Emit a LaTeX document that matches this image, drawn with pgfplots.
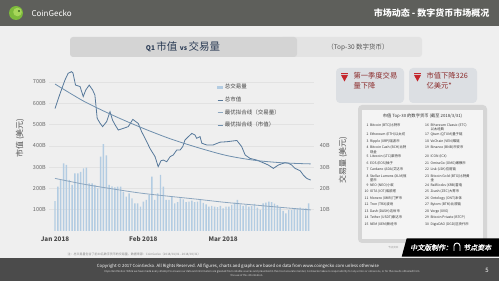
\documentclass[border=0pt]{standalone}
\usepackage{pgfplots}
\pgfplotsset{compat=1.18}
\usepackage{fontspec}
\setmainfont{Noto Sans CJK SC}
\newfontfamily\bannerfont[FakeSlant=0.2,FakeBold=1.2]{Noto Sans CJK SC}
\definecolor{bg}{HTML}{EFEFEF}
\definecolor{hdr}{HTML}{5E5F5B}
\definecolor{ftr}{HTML}{4B4B4B}
\definecolor{barcol}{HTML}{B3CCE2}
\definecolor{mcapcol}{HTML}{56789A}
\definecolor{mtrend}{HTML}{6F8FAD}
\definecolor{vtrend}{HTML}{8CA6BF}
\definecolor{tickgray}{HTML}{666666}
\definecolor{titlecol}{HTML}{2A3B55}
\definecolor{callred}{HTML}{C4262C}
\definecolor{calltext}{HTML}{8B2B2B}
\definecolor{logoA}{HTML}{7DBA3C}
\definecolor{logoB}{HTML}{A6D65A}
\definecolor{logoC}{HTML}{3F6E1E}
\definecolor{boxA}{HTML}{D4D4D4}
\definecolor{boxB}{HTML}{E3E3E3}
\definecolor{callbox}{HTML}{DCDFE3}
\definecolor{tabout}{HTML}{D6D6D6}
\definecolor{tabin}{HTML}{F4F4F4}
\definecolor{gridc}{HTML}{E2E2E2}
\definecolor{g33}{HTML}{333333}
\definecolor{g44}{HTML}{444444}
\definecolor{g4a}{HTML}{4A4A4A}
\definecolor{g55}{HTML}{555555}
\definecolor{g88}{HTML}{888888}
\definecolor{g99}{HTML}{999999}
\definecolor{gdd}{HTML}{DDDDDD}
\newcommand\R[2]{\makebox[5pt][r]{#1}\hspace{1.5pt}\parbox[t]{51pt}{\raggedright #2}}
\begin{document}
\begin{tikzpicture}[x=1pt,y=1pt]
\useasboundingbox (0,0) rectangle (499,281);
\fill[bg] (0,0) rectangle (499,281);
% header
\fill[hdr] (0,255) rectangle (499,281);
\fill[logoA] (16,268) circle (7);
\fill[logoB] (17.5,269) circle (4.3);
\fill[logoC] (19,270) circle (1.2);
\node[anchor=west,text=white,font=\fontsize{8}{9}\selectfont] at (28,268) {CoinGecko};
\node[anchor=east,text=white,font=\fontsize{9}{10}\selectfont\bfseries] at (493,268) {市场动态 - 数字货币市场概况};
% title boxes
\fill[boxB,rounded corners=3pt] (280,224) rectangle (422,244);
\fill[boxA,rounded corners=3pt] (70,224) rectangle (297,244);
\node[text=titlecol] at (183,234) {\fontsize{6.5}{7}\selectfont\bfseries Q1 \fontsize{10.5}{12}\selectfont\mdseries 市值 \fontsize{6.5}{7}\selectfont\bfseries vs \fontsize{10.5}{12}\selectfont\mdseries 交易量};
\node[text=g55,font=\fontsize{6.5}{7}\selectfont] at (358,234) {（Top-30 数字货币）};
% callouts
\fill[callbox,rounded corners=4pt] (336,178) rectangle (404,213);
\fill[callbox,rounded corners=4pt] (409,178) rectangle (477,213);
\fill[callred] (341,207) rectangle (348,208.4);
\fill[callred] (341,206) -- (348,206) -- (344.5,199.5) -- cycle;
\fill[callred] (414,207) rectangle (421,208.4);
\fill[callred] (414,206) -- (421,206) -- (417.5,199.5) -- cycle;
\node[anchor=west,text=calltext,font=\fontsize{7.3}{8}\selectfont] at (350,205) {第一季度交易};
\node[anchor=west,text=calltext,font=\fontsize{7.3}{8}\selectfont] at (350,195) {量下降};
\node[anchor=west,text=calltext,font=\fontsize{7.3}{8}\selectfont] at (423,205) {市值下降326};
\node[anchor=west,text=calltext,font=\fontsize{7.3}{8}\selectfont] at (423,195) {亿美元*};
% table
\fill[tabout,rounded corners=4pt] (358,38) rectangle (487,176);
\fill[tabin] (362,42) rectangle (483,171);
\node[text=g33,font=\fontsize{4.3}{5}\selectfont] at (422.5,164.5) {市值 Top-30 的数字货币 (截至 2018/3/31)};
\node[anchor=north,inner sep=0pt,text=g33,font=\fontsize{3.4}{4.2}\selectfont] at (422.5,159) {%
\renewcommand{\arraystretch}{1.55}%
\begin{tabular}{@{}l@{\hspace{3pt}}l@{}}
\R{1}{Bitcoin (BTC)比特币} & \R{16}{Ethereum Classic (ETC)\\以太经典}\\
\R{2}{Ethereum (ETH)以太坊} & \R{17}{Qtum (QTUM)量子链}\\
\R{3}{Ripple (XRP)瑞波币} & \R{18}{VeChain (VEN)唯链}\\
\R{4}{Bitcoin Cash (BCH)比特\\现金} & \R{19}{Binance (BNB)币安币}\\
\R{5}{Litecoin (LTC)莱特币} & \R{20}{ICON (ICX)}\\
\R{6}{EOS (EOS)柚子} & \R{21}{OmiseGo (OMG)嫩模币}\\
\R{7}{Cardano (ADA)艾达币} & \R{22}{Lisk (LSK)应用链}\\
\R{8}{Stellar Lumens (XLM)恒\\星币} & \R{23}{Bitcoin Gold (BTG)比特黄\\金}\\
\R{9}{NEO (NEO)小蚁} & \R{24}{RaiBlocks (XRB)雷电}\\
\R{10}{IOTA (IOT)埃欧塔} & \R{25}{Zcash (ZEC)大零币}\\
\R{11}{Monero (XMR)门罗币} & \R{26}{Ontology (ONT)本体}\\
\R{12}{Tron (TRX)波场} & \R{27}{Bytom (BTM)比原链}\\
\R{13}{Dash (DASH)达世币} & \R{28}{Verge (XVG)}\\
\R{14}{Tether (USDT)泰达币} & \R{29}{Bitcoin Private (BTCP)}\\
\R{15}{NEM (XEM)新经币} & \R{30}{DigixDAO (DGD)区块代币}\\
\end{tabular}};
% volume axis (right)
\begin{axis}[at={(49.3pt,50pt)},anchor=south west,scale only axis,
  width=265.1pt,height=161.9pt,xmin=-2,xmax=91,ymin=0,ymax=76,
  axis x line=none,axis y line*=right,axis line style={draw=none},
  tick style={draw=none},
  ytick={10,20,30,40,50,60,70},yticklabels={10B,20B,30B,40B,{},{},{}},
  yticklabel style={font=\fontsize{5.5}{6}\selectfont,text=tickgray},
  yticklabel shift=2pt,
  ymajorgrids,grid style={gridc,line width=0.4pt},
  clip=false]
\addplot[ybar,bar width=0.5,fill=barcol,draw=none] table[x=d,y=v] {
d v
0 14.0
1 20.8
2 24.0
3 31.8
4 31.0
5 24.0
6 21.6
7 27.0
8 27.0
9 27.8
10 29.4
11 29.7
12 22.4
13 22.4
14 21.6
15 20.0
16 34.9
17 40.8
18 35.5
19 21.6
20 21.0
21 20.5
22 20.8
23 20.8
24 18.4
25 16.1
26 17.7
27 15.3
28 13.0
29 13.0
30 11.4
31 13.8
32 14.6
33 16.9
34 25.5
35 14.6
36 17.7
37 26.3
38 20.8
39 14.6
40 14.6
41 16.1
42 13.0
43 13.5
44 15.3
45 14.9
46 13.5
47 13.8
48 14.2
49 13.5
50 13.8
51 14.6
52 13.2
53 12.5
54 11.4
55 11.8
56 11.4
57 11.2
58 11.8
59 10.6
60 11.4
61 11.4
62 12.3
63 13.3
64 14.6
65 12.5
66 11.8
67 12.2
68 11.4
69 11.8
70 12.7
71 11.0
72 9.9
73 13.0
74 13.3
75 13.8
76 13.5
77 12.8
78 12.2
79 11.0
80 9.5
81 8.3
82 9.9
83 9.9
84 10.6
85 10.6
86 11.0
87 10.6
88 10.6
89 13.0
};
\addplot[vtrend,smooth,line width=0.8pt] coordinates {
(0,24.7) (10,22.0) (20,19.8) (30,17.8) (40,16.3) (50,14.9) (60,13.4) (70,12.2) (80,11.0) (89.7,9.9)};
\end{axis}
% market cap axis (left)
\begin{axis}[at={(49.3pt,50pt)},anchor=south west,scale only axis,
  width=265.1pt,height=161.9pt,xmin=-2,xmax=91,ymin=0,ymax=760,
  axis y line*=left,axis x line*=bottom,axis line style={draw=none},
  tick style={draw=none},
  ytick={100,200,...,700},
  yticklabel={\pgfmathprintnumber{\tick}B},
  /pgf/number format/assume math mode=true,
  yticklabel style={font=\fontsize{5.5}{6}\selectfont,text=tickgray},
  yticklabel shift=0pt,
  xtick={0,31,59},xticklabels={Jan 2018,Feb 2018,Mar 2018},
  xticklabel style={font=\fontsize{6.3}{7}\selectfont\bfseries,text=g4a,yshift=-2pt},
  legend image code/.code={\draw[#1] (0pt,0pt) -- (5pt,0pt);},
  legend style={at={(0.621,0.933)},anchor=north west,draw=none,fill=none,
    font=\fontsize{5.5}{6}\selectfont,text=g44,row sep=2.5pt,
    /tikz/every even column/.append style={column sep=2pt}},
  legend cell align=left,
  clip=false]
\addlegendimage{legend image code/.code={\fill[barcol] (0pt,-1.3pt) rectangle (5pt,1.3pt);}}
\addlegendentry{总交易量}
\addplot[mcapcol,line width=0.8pt] coordinates {
(0,575) (1.8,646) (3.5,709) (4.6,740) (5.8,748) (6.3,742) (7.2,685) (8.8,678) (9.9,631) (10.8,662)
(12.0,685) (13.2,662) (14.0,638) (14.8,529) (15.8,506) (16.7,490) (18.1,513) (19.3,560) (20.2,520) (21.1,498)
(22.2,474) (24.0,482) (25.7,490) (27.3,524) (29.2,505) (30.4,466) (32.2,419) (33.3,388) (35.1,349) (36.2,302)
(37.2,330) (38.0,333) (39.2,325) (40.4,349) (41.5,357) (42.7,380) (43.9,380) (44.8,396) (45.6,427) (46.8,443)
(48.0,458) (49.1,451) (49.7,435) (50.9,443) (51.5,412) (53.2,404) (55.5,404) (57.9,417) (60.2,419) (62.0,422)
(63.8,425) (65.5,396) (66.7,357) (68.4,341) (70.8,333) (73.1,320) (74.8,310) (76.6,294) (78.4,310) (80.7,321)
(81.9,318) (83.0,310) (84.2,294) (86.0,283) (87.1,263) (88.3,247) (89.7,239)};
\addlegendentry{总市值}
\addlegendimage{vtrend,line width=0.8pt}
\addlegendentry{最优拟合线（交易量）}
\addplot[mtrend,smooth,line width=0.8pt] coordinates {
(0,690) (10,610) (20,545) (30,487) (40,435) (50,392) (60,355) (70,332) (80,320) (89.7,315)};
\addlegendentry{最优拟合线（市值）}
\end{axis}
% axis titles
\node[rotate=90,text=g55,font=\fontsize{8}{9}\selectfont] at (20,143) {市值 (美元)};
\node[rotate=90,text=g55,font=\fontsize{8}{9}\selectfont] at (343,121) {交易量 (美元)};
% footnote
\node[anchor=west,text=g88,font=\fontsize{3}{3.5}\selectfont] at (64,27) {注：总交易量包含了前30名数字货币的交易量。数据来源：CoinGecko（2018/01/01 - 2018/03/31）};
% footer
\fill[ftr] (0,0) rectangle (499,23);
\node[text=white,font=\fontsize{4.3}{5}\selectfont] at (238,15) {Copyright © 2017 CoinGecko. All Rights Reserved. All figures, charts and graphs are based on data from www.coingecko.com unless otherwise};
\node[text=gdd,font=\fontsize{2.6}{3}\selectfont] at (262,9.5) {Important Notice: While we have made every attempt to ensure our data and information are gleaned from reliable sources and presented in the most accurate manner, CoinGecko takes no responsibility for any errors or omissions, or for the results obtained from};
\node[text=gdd,font=\fontsize{2.6}{3}\selectfont] at (247,5.5) {the use of this information.};
\node[text=white,font=\fontsize{6}{7}\selectfont] at (487,11) {5};
% banner
\fill[black] (406.7,42.7) -- (499,42.7) -- (499,24.3) -- (401.7,24.3) -- cycle;
\node[anchor=west,inner sep=0pt,text=white,font=\fontsize{7}{8}\selectfont\bannerfont] at (410,33.5) {中文版制作：};
\draw[white,line width=0.9pt] (454,30) -- (454,35) arc (180:0:3) -- (460,30);
\node[anchor=west,inner sep=0pt,text=white,font=\fontsize{7}{8}\selectfont\bannerfont] at (463,33.5) {节点资本};
\node[anchor=east,text=g99,font=\fontsize{2.5}{3}\selectfont] at (402,33) {节点资本};
\end{tikzpicture}
\end{document}
